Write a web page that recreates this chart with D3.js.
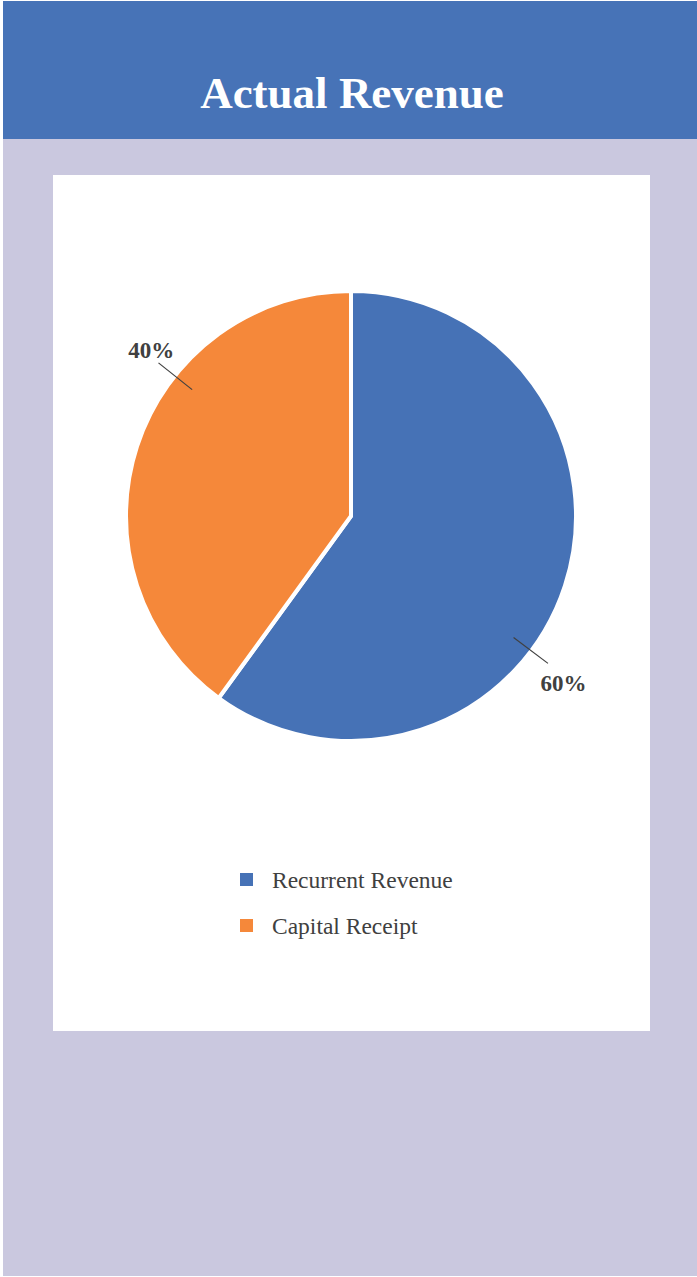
<!DOCTYPE html>
<html>
<head>
<meta charset="utf-8">
<script src="https://cdn.jsdelivr.net/npm/d3@7"></script>
<style>
  html, body { margin: 0; padding: 0; background: #ffffff; }
  svg { display: block; }
</style>
</head>
<body>
<script>
// ---- data ----
const categories = ["Recurrent Revenue", "Capital Receipt"];
const values = [60, 40];
const colors = ["#4672B6", "#F5883A"];
const title = "Actual Revenue";

// ---- layout ----
const W = 697, H = 1277;
const svg = d3.select("body").append("svg").attr("width", W).attr("height", H);

svg.append("rect").attr("x", 0).attr("y", 0).attr("width", W).attr("height", H).attr("fill", "#ffffff");
svg.append("rect").attr("x", 3).attr("y", 1).attr("width", W - 3).attr("height", H - 2).attr("fill", "#CAC8DF");
svg.append("rect").attr("x", 3).attr("y", 1).attr("width", W - 3).attr("height", 138).attr("fill", "#4773B7");

svg.append("text")
  .attr("x", 352).attr("y", 108)
  .attr("text-anchor", "middle")
  .attr("font-family", "'Liberation Serif', 'Times New Roman', serif")
  .attr("font-weight", "bold")
  .attr("font-size", 45)
  .attr("fill", "#ffffff")
  .text(title);

// white panel
svg.append("rect").attr("x", 53).attr("y", 175).attr("width", 597).attr("height", 856).attr("fill", "#ffffff");

// pie
const cx = 351, cy = 516, R = 225;
const g = svg.append("g").attr("transform", `translate(${cx},${cy})`);
const pie = d3.pie().sort(null).value(d => d)(values);
const arc = d3.arc().innerRadius(0).outerRadius(R);

g.selectAll("path.slice").data(pie).join("path")
  .attr("class", "slice")
  .attr("d", arc)
  .attr("fill", (d, i) => colors[i])
  .attr("stroke", "#ffffff")
  .attr("stroke-width", 4)
  .attr("stroke-linejoin", "miter");

// labels with leader lines (layout constants per slice)
const nudge = [18.8, 20.5];      // degrees past the mid angle
const labelR = [270, 260];
const fmt = d3.format(".0%");
const total = d3.sum(values);
const pt = (ang, r) => [r * Math.sin(ang), -r * Math.cos(ang)];
pie.forEach((d, i) => {
  const a = (d.startAngle + d.endAngle) / 2 + nudge[i] * Math.PI / 180;
  const p0 = pt(a, 203), p1 = pt(a, 246), pl = pt(a + 1.3 * Math.PI / 180, labelR[i]);
  g.append("line")
    .attr("x1", p0[0]).attr("y1", p0[1]).attr("x2", p1[0]).attr("y2", p1[1])
    .attr("stroke", "#404040").attr("stroke-width", 1.2);
  g.append("text")
    .attr("x", pl[0]).attr("y", pl[1] + 8)
    .attr("text-anchor", "middle")
    .attr("font-family", "'Liberation Serif', 'Times New Roman', serif")
    .attr("font-weight", "bold")
    .attr("font-size", 23)
    .attr("fill", "#404040")
    .text(fmt(d.data / total));
});

// legend
const lg = svg.append("g").attr("transform", "translate(240,873)");
categories.forEach((c, i) => {
  const row = lg.append("g").attr("transform", `translate(0,${i * 46})`);
  row.append("rect").attr("x", 0).attr("y", 0).attr("width", 13).attr("height", 13).attr("fill", colors[i]);
  row.append("text")
    .attr("x", 32).attr("y", 15)
    .attr("font-family", "'Liberation Serif', 'Times New Roman', serif")
    .attr("font-size", 23.5)
    .attr("fill", "#404040")
    .text(c);
});
</script>
</body>
</html>
